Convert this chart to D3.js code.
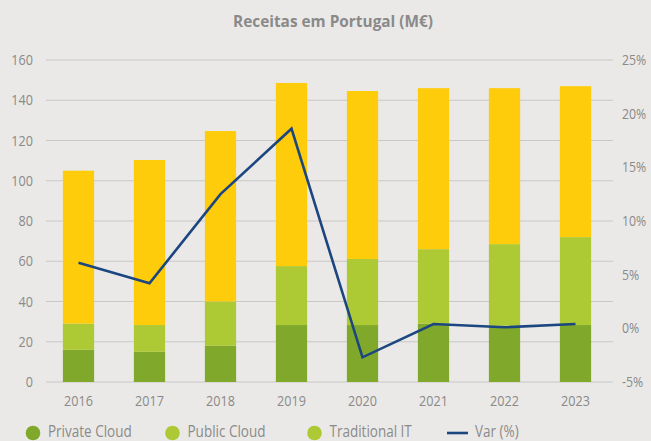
<!DOCTYPE html>
<html>
<head>
<meta charset="utf-8">
<script src="https://cdn.jsdelivr.net/npm/d3@7"></script>
<style>
  body { margin: 0; background: #eae9e7; }
  svg { display: block; font-family: "Open Sans", sans-serif; }
</style>
</head>
<body>
<div id="chart"></div>
<script>
var years = ["2016", "2017", "2018", "2019", "2020", "2021", "2022", "2023"];
var privateCloud = [16, 15, 18, 28.3, 28.3, 29, 28, 28.3];
var publicCloud = [13, 13.3, 22, 29.3, 32.8, 37, 40.5, 43.7];
var traditionalIT = [76, 82, 84.7, 91, 83.5, 80, 77.5, 75];
var variation = [6.1, 4.2, 12.5, 18.6, -2.7, 0.4, 0.1, 0.4];
var leftTicks = [0, 20, 40, 60, 80, 100, 120, 140, 160];
var rightTicks = [-5, 0, 5, 10, 15, 20, 25];
var seriesNames = ["Private Cloud", "Public Cloud", "Traditional IT"];

var width = 651, height = 441;
var margin = { top: 60, right: 40, bottom: 59, left: 43 };
var w = width - margin.left - margin.right,
    h = height - margin.top - margin.bottom;
var textGrey = "#8a8a8a";

// the source font looks a bit narrow, squeeze the glyphs horizontally
function squeeze(sel, k) {
    sel.each(function () {
        var len = this.getComputedTextLength();
        d3.select(this).attr("textLength", len * k).attr("lengthAdjust", "spacingAndGlyphs");
    });
}

var svg = d3.select("#chart")
    .append("svg")
    .attr("width", width)
    .attr("height", height);

svg.append("rect").attr("width", width).attr("height", height).attr("fill", "#eae9e7");

svg.append("text")
    .attr("x", 333).attr("y", 27)
    .attr("text-anchor", "middle")
    .attr("font-size", 16.5).attr("font-weight", "bold")
    .attr("fill", textGrey)
    .attr("textLength", 200).attr("lengthAdjust", "spacingAndGlyphs")
    .text("Receitas em Portugal (M€)");

var g = svg.append("g")
    .attr("transform", "translate(" + margin.left + "," + margin.top + ")");

var x = d3.scaleBand().domain(years).range([0, w]).paddingInner(0.56).paddingOuter(0.28);
var y = d3.scaleLinear().domain([0, 160]).range([h, 0]);
var y2 = d3.scaleLinear().domain([-5, 25]).range([h, 0]);

// gridlines
g.append("g")
    .selectAll("line")
    .data(leftTicks)
    .enter().append("line")
    .attr("x1", 3).attr("x2", w + 2)
    .attr("y1", function (d) { return y(d) })
    .attr("y2", function (d) { return y(d) })
    .attr("stroke", "#c9c8c6").attr("stroke-width", 1);

// left axis
var axL = g.append("g").call(d3.axisLeft(y).tickValues(leftTicks).tickSize(0).tickPadding(10));
axL.select(".domain").remove();
axL.selectAll("text").attr("font-size", 14.5).attr("fill", textGrey).attr("font-family", "Open Sans");

// right axis
var axR = g.append("g").attr("transform", "translate(" + (w + 11) + ",0)")
    .call(d3.axisRight(y2).tickValues(rightTicks).tickSize(0).tickPadding(0).tickFormat(function (d) { return d + "%" }));
axR.select(".domain").remove();
axR.selectAll("text").attr("font-size", 14.5).attr("fill", textGrey).attr("font-family", "Open Sans");

// bottom axis
var axB = g.append("g").attr("transform", "translate(0," + h + ")")
    .call(d3.axisBottom(x).tickSize(0).tickPadding(14));
axB.select(".domain").remove();
axB.selectAll("text").attr("font-size", 14.5).attr("fill", textGrey).attr("font-family", "Open Sans");

squeeze(axL.selectAll("text"), 0.87);
squeeze(axR.selectAll("text"), 0.85);
squeeze(axB.selectAll("text"), 0.87);

// stacked bars
var table = years.map(function (yr, i) {
    return { year: yr, "Private Cloud": privateCloud[i], "Public Cloud": publicCloud[i], "Traditional IT": traditionalIT[i] };
});
var stack = d3.stack().keys(seriesNames)(table);
var colors = { "Private Cloud": "#80a92b", "Public Cloud": "#adc934", "Traditional IT": "#fecc0a" };

g.selectAll(".layer")
    .data(stack)
    .enter().append("g")
    .attr("fill", function (d) { return colors[d.key] })
    .selectAll("rect")
    .data(function (d) { return d })
    .enter().append("rect")
    .attr("x", function (d) { return x(d.data.year) })
    .attr("width", x.bandwidth())
    .attr("y", function (d) { return y(d[1]) })
    .attr("height", function (d) { return y(d[0]) - y(d[1]) });

// var line
var line = d3.line()
    .x(function (d, i) { return x(years[i]) + x.bandwidth() / 2 })
    .y(function (d) { return y2(d) });

g.append("path")
    .datum(variation)
    .attr("d", line)
    .attr("fill", "none")
    .attr("stroke", "#1c4680")
    .attr("stroke-width", 2.6);

// legend
var legend = svg.append("g").attr("font-size", 15.5).attr("fill", textGrey);
var legendItems = [
    { name: "Private Cloud", x: 33, color: "#80a92b" },
    { name: "Public Cloud", x: 172.5, color: "#adc934" },
    { name: "Traditional IT", x: 314.5, color: "#adc934" }
];
legendItems.forEach(function (it) {
    legend.append("circle").attr("cx", it.x).attr("cy", 433).attr("r", 7.3).attr("fill", it.color);
    legend.append("text").attr("x", it.x + 15).attr("y", 437).text(it.name);
});
legend.append("line").attr("x1", 447).attr("x2", 468).attr("y1", 433).attr("y2", 433)
    .attr("stroke", "#1c4680").attr("stroke-width", 2.6);
legend.append("text").attr("x", 475).attr("y", 437).text("Var (%)");
squeeze(legend.selectAll("text"), 0.87);
</script>
</body>
</html>
